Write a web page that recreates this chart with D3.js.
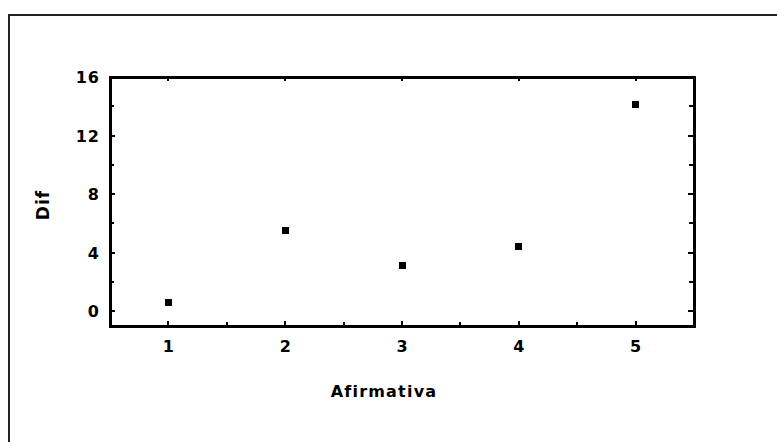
<!DOCTYPE html>
<html>
<head>
<meta charset="utf-8">
<script src="https://cdn.jsdelivr.net/npm/d3@7"></script>
<style>
body { margin: 0; background: #fff; }
svg text { font-family: "DejaVu Sans", Arial, sans-serif; font-weight: bold; fill: #000; }
</style>
</head>
<body>
<svg id="chart"></svg>
<script>
var W = 777, H = 442;
var afirmativa = [1, 2, 3, 4, 5];
var dif = [0.6, 5.5, 3.1, 4.4, 14.1];
var xTicks = [1, 2, 3, 4, 5];
var xMinor = [1.5, 2.5, 3.5, 4.5];
var yTicks = [0, 4, 8, 12, 16];
var yMinor = [2, 6, 10, 14];

var svg = d3.select("#chart").attr("width", W).attr("height", H);

// marco exterior
svg.append("path").attr("d", "M9,442 V15 H777")
  .attr("fill", "none").attr("stroke", "#222").attr("stroke-width", 2);

var pL = 110, pR = 694, pT = 77, pB = 326;
var x = d3.scaleLinear().domain([0.5, 5.5]).range([pL, pR]);
var y = d3.scaleLinear().domain([-1, 16]).range([pB, pT]);

var g = svg.append("g").attr("shape-rendering", "crispEdges");

// ticks
function ticks(vals, len, side) {
  g.selectAll(null).data(vals).enter().append("line")
    .attr("x1", function(d) { return side == "l" ? pL : side == "r" ? pR : x(d); })
    .attr("x2", function(d) { return side == "l" ? pL + len : side == "r" ? pR - len : x(d); })
    .attr("y1", function(d) { return side == "b" ? pB : side == "t" ? pT : y(d); })
    .attr("y2", function(d) { return side == "b" ? pB - len : side == "t" ? pT + len : y(d); })
    .attr("stroke", "#000").attr("stroke-width", 2);
}
ticks(xTicks, 5, "b");
ticks(xMinor, 4, "b");
ticks(xTicks, 4, "t");
ticks(yTicks, 5, "l");
ticks(yMinor, 4, "l");
ticks(yTicks, 6, "r");
ticks(yMinor, 5, "r");

// caja del grafico
g.append("rect").attr("x", pL).attr("y", pT)
  .attr("width", pR - pL).attr("height", pB - pT)
  .attr("fill", "none").attr("stroke", "#000").attr("stroke-width", 3);
g.append("line").attr("x1", pR + 1).attr("x2", pR + 1).attr("y1", pT - 1).attr("y2", pB + 2)
  .attr("stroke", "#000").attr("stroke-width", 2);

// etiquetas
svg.selectAll(".xl").data(xTicks).enter().append("text")
  .attr("x", function(d) { return x(d); }).attr("y", 352)
  .attr("text-anchor", "middle").attr("font-size", 16)
  .text(function(d) { return d; });
svg.selectAll(".yl").data(yTicks).enter().append("text")
  .attr("x", 100).attr("y", function(d) { return y(d) + 6; })
  .attr("text-anchor", "end").attr("font-size", 16).attr("letter-spacing", 1)
  .text(function(d) { return d; });

svg.append("text").attr("x", 384).attr("y", 397)
  .attr("text-anchor", "middle").attr("font-size", 16).attr("letter-spacing", 1.2)
  .text("Afirmativa");
svg.append("text").attr("transform", "translate(49,205) rotate(-90)")
  .attr("text-anchor", "middle").attr("font-size", 17).attr("letter-spacing", 1)
  .text("Dif");

// puntos
var s = 7;
g.selectAll(".pt").data(afirmativa).enter().append("rect")
  .attr("x", function(d) { return x(d) - s / 2; })
  .attr("y", function(d, i) { return y(dif[i]) - s / 2; })
  .attr("width", s).attr("height", s).attr("fill", "#000");
</script>
</body>
</html>
